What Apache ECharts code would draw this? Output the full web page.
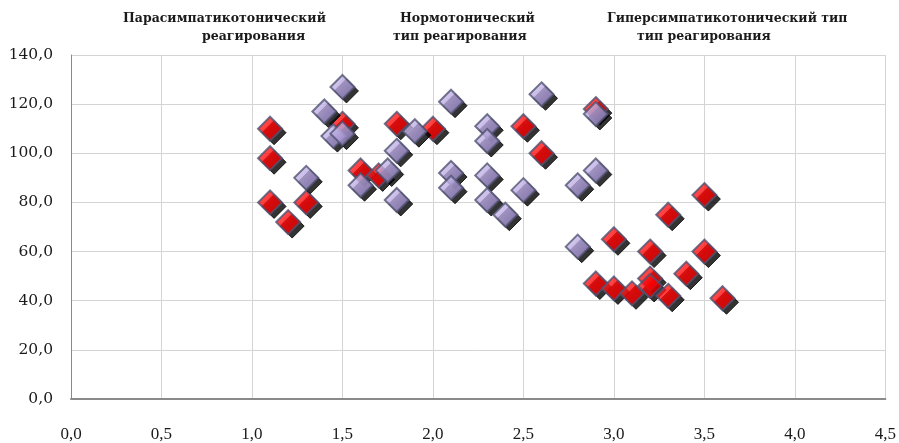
<!DOCTYPE html>
<html>
<head>
<meta charset="utf-8">
<script src="https://cdn.jsdelivr.net/npm/echarts@6/dist/echarts.min.js"></script>
<style>html,body{margin:0;padding:0;background:#fff}#c{width:899px;height:443px}</style>
</head>
<body>
<div id="c"></div>
<script>
// Group labels (lines of text above the plot)
const groupLabels = [
  ["Парасимпатикотонический", "реагирования"],
  ["Нормотонический", "тип реагирования"],
  ["Гиперсимпатикотонический тип", "тип реагирования"]
];
const xTicks = [0, 0.5, 1, 1.5, 2, 2.5, 3, 3.5, 4, 4.5];
const yTicks = [0, 20, 40, 60, 80, 100, 120, 140];

// Red series [x, y]
const redPoints = [
  [1.1,110],[1.1,98],[1.1,80],[1.2,72],[1.3,80],[1.5,112],[1.6,93],[1.7,91],
  [1.8,112],[2.0,110],[2.5,111],[2.6,100],[2.9,118],[3.0,65],[2.9,47],[3.0,45],
  [3.1,43],[3.2,60],[3.2,49],[3.2,46],[3.3,75],[3.3,42],[3.4,51],[3.5,83],
  [3.5,60],[3.6,41]
];
// Lavender series [x, y]
const purplePoints = [
  [1.3,90],[1.5,127],[1.4,117],[1.45,107],[1.5,108],[1.6,87],[1.8,101],[1.9,109],
  [2.1,121],[1.75,93],[1.8,81],[2.1,92],[2.1,86],[2.3,111],[2.3,105],[2.3,91],
  [2.3,81],[2.4,75],[2.5,85],[2.6,124],[2.9,116],[2.9,93],[2.8,87],[2.8,62]
];

const labelPos = [
  [[123,19],[202,37]],
  [[400,19],[393,37]],
  [[607,19],[637,37]]
];
const titleFont = 'bold 12.5px "DejaVu Serif", serif';
const graphics = [];
groupLabels.forEach((lines, i) => {
  lines.forEach((t, j) => {
    graphics.push({
      type: 'text', x: labelPos[i][j][0], y: labelPos[i][j][1],
      style: { text: t, font: titleFont, fill: '#1a1a1a', verticalAlign: 'middle', align: 'left' }
    });
  });
});

const fmt = v => v.toFixed(1).replace('.', ',');
const chart = echarts.init(document.getElementById('c'), null, {renderer: 'canvas'});
const SIZE = 24;
const mainStyle = (top, mid, bot) => ({
  color: new echarts.graphic.LinearGradient(0, 0, 1, 1, [
    {offset: 0, color: top}, {offset: 0.5, color: mid}, {offset: 1, color: bot}
  ]),
  borderColor: '#505272',
  borderWidth: 2
});
const shadowSeries = (data, z) => ({
  type: 'scatter', data: data, symbol: 'diamond', symbolSize: SIZE,
  symbolOffset: [4, 4], silent: true, z: z,
  itemStyle: { color: '#000000', borderColor: '#000000', borderWidth: 1 }
});
chart.setOption({
  animation: false,
  backgroundColor: '#ffffff',
  grid: { left: 71, right: 10, top: 55, bottom: 38 },
  graphic: graphics,
  xAxis: {
    type: 'value', min: 0, max: 4.5, interval: 0.5,
    axisLine: { show: true, onZero: false, lineStyle: { color: '#8a8a8a', width: 2 } },
    axisTick: { show: false },
    splitLine: { show: true, lineStyle: { color: '#d4d4d4', width: 1 } },
    axisLabel: { margin: 27, color: '#1a1a1a', fontFamily: '"Liberation Serif", serif', fontSize: 17,
      formatter: v => xTicks.includes(+v.toFixed(1)) ? fmt(v) : '' }
  },
  yAxis: {
    type: 'value', min: 0, max: 140, interval: 20,
    axisLine: { show: true, lineStyle: { color: '#8a8a8a', width: 1 } },
    axisTick: { show: false },
    splitLine: { show: true, lineStyle: { color: '#d4d4d4', width: 1 } },
    axisLabel: { margin: 18, color: '#1a1a1a', fontFamily: '"DejaVu Serif", serif', fontSize: 15.5,
      formatter: v => yTicks.includes(v) ? fmt(v) : '' }
  },
  series: [
    shadowSeries(redPoints, 2),
    {
      type: 'scatter', data: redPoints, symbol: 'diamond', symbolSize: SIZE, z: 3,
      itemStyle: mainStyle('#ff4040', '#ff0000', '#e00000')
    },
    shadowSeries(purplePoints, 4),
    {
      type: 'scatter', data: purplePoints, symbol: 'diamond', symbolSize: SIZE, z: 5,
      itemStyle: mainStyle('#e0d6f8', '#b4a3de', '#8d7bbb')
    }
  ]
});
</script>
</body>
</html>
